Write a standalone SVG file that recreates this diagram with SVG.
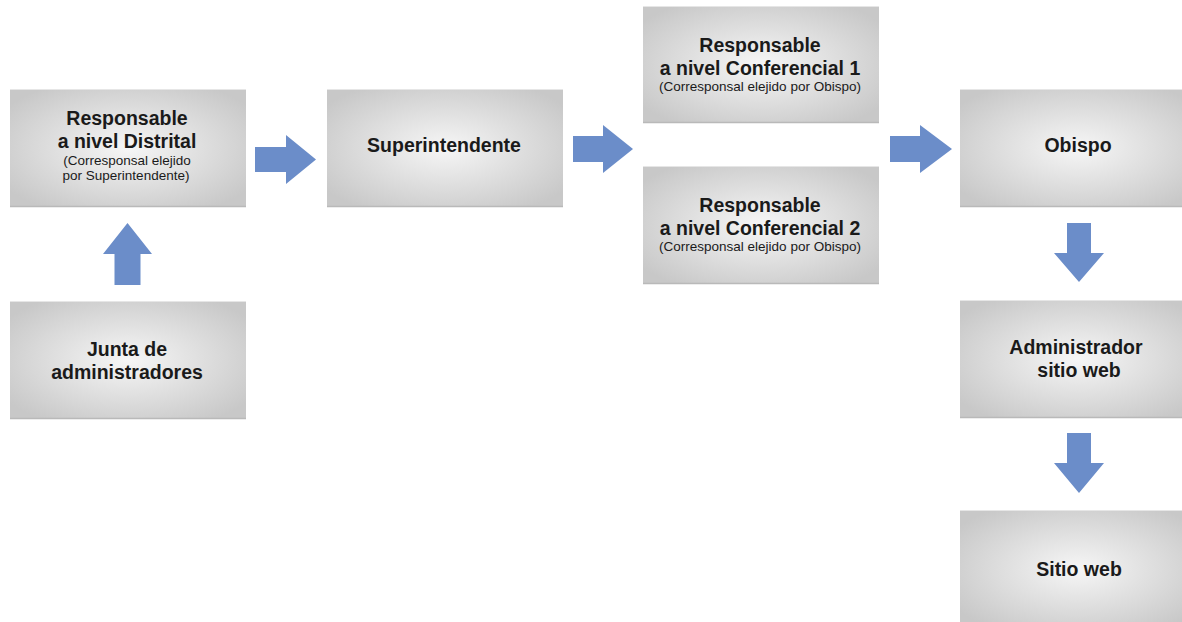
<svg xmlns="http://www.w3.org/2000/svg" width="1182" height="622" viewBox="0 0 1182 622">
<defs>
<radialGradient id="g" cx="0.5" cy="0.5" r="0.62" fx="0.5" fy="0.5">
<stop offset="0" stop-color="#f6f6f6"/>
<stop offset="1" stop-color="#c8c8c8"/>
</radialGradient>
<style>
.box{fill:url(#g);}
.top{stroke:#e6e6e6;stroke-width:1;}
.bot{stroke:#b9b9b9;stroke-width:1.5;}
.t{font-family:"Liberation Sans",Arial,sans-serif;font-weight:bold;font-size:19.5px;fill:#1a1a1a;text-anchor:middle;}
.s{font-family:"Liberation Sans",Arial,sans-serif;font-size:13.5px;fill:#1a1a1a;text-anchor:middle;}
.arr{fill:#6b8dc9;}
</style>
</defs>
<rect width="1182" height="622" fill="#ffffff"/>

<g id="distrital">
<rect class="box" x="10" y="89" width="236" height="118"/>
<line class="top" x1="10" y1="89.5" x2="246" y2="89.5"/>
<line class="bot" x1="10" y1="206.5" x2="246" y2="206.5"/>
<text class="t" x="127" y="125">Responsable</text>
<text class="t" x="127" y="148">a nivel Distrital</text>
<text class="s" x="127" y="165">(Corresponsal elejido</text>
<text class="s" x="126" y="180">por Superintendente)</text>
</g>

<g id="junta">
<rect class="box" x="10" y="301" width="236" height="118"/>
<line class="top" x1="10" y1="301.5" x2="246" y2="301.5"/>
<line class="bot" x1="10" y1="418.5" x2="246" y2="418.5"/>
<text class="t" x="127" y="356">Junta de</text>
<text class="t" x="127" y="379">administradores</text>
</g>

<g id="superintendente">
<rect class="box" x="327" y="89" width="236" height="118"/>
<line class="top" x1="327" y1="89.5" x2="563" y2="89.5"/>
<line class="bot" x1="327" y1="206.5" x2="563" y2="206.5"/>
<text class="t" x="444" y="152">Superintendente</text>
</g>

<g id="conferencial1">
<rect class="box" x="643" y="6" width="236" height="117"/>
<line class="top" x1="643" y1="6.5" x2="879" y2="6.5"/>
<line class="bot" x1="643" y1="122.5" x2="879" y2="122.5"/>
<text class="t" x="760" y="52">Responsable</text>
<text class="t" x="760" y="75">a nivel Conferencial 1</text>
<text class="s" x="760" y="91">(Corresponsal elejido por Obispo)</text>
</g>

<g id="conferencial2">
<rect class="box" x="643" y="166" width="236" height="118"/>
<line class="top" x1="643" y1="166.5" x2="879" y2="166.5"/>
<line class="bot" x1="643" y1="283.5" x2="879" y2="283.5"/>
<text class="t" x="760" y="212">Responsable</text>
<text class="t" x="760" y="235">a nivel Conferencial 2</text>
<text class="s" x="760" y="251">(Corresponsal elejido por Obispo)</text>
</g>

<g id="obispo">
<rect class="box" x="960" y="89" width="236" height="118"/>
<line class="top" x1="960" y1="89.5" x2="1196" y2="89.5"/>
<line class="bot" x1="960" y1="206.5" x2="1196" y2="206.5"/>
<text class="t" x="1078" y="152">Obispo</text>
</g>

<g id="administrador">
<rect class="box" x="960" y="300" width="236" height="118"/>
<line class="top" x1="960" y1="300.5" x2="1196" y2="300.5"/>
<line class="bot" x1="960" y1="417.5" x2="1196" y2="417.5"/>
<text class="t" x="1076" y="354">Administrador</text>
<text class="t" x="1079" y="377">sitio web</text>
</g>

<g id="sitioweb">
<rect class="box" x="960" y="510" width="236" height="118"/>
<line class="top" x1="960" y1="510.5" x2="1196" y2="510.5"/>
<text class="t" x="1079" y="576">Sitio web</text>
</g>

<g id="connectors">
<polygon class="arr" points="255,147 286,147 286,135 316,159.5 286,184 286,172 255,172"/>
<polygon class="arr" points="573,136 603,136 603,125 633,149 603,173 603,162 573,162"/>
<polygon class="arr" points="890,136 920,136 920,125 952,149 920,173 920,162 890,162"/>
<polygon class="arr" points="114.5,285 140.5,285 140.5,254 152,254 127.5,223 103,254 114.5,254"/>
<polygon class="arr" points="1067,223 1091,223 1091,253 1104,253 1079,282 1054,253 1067,253"/>
<polygon class="arr" points="1067,433 1091,433 1091,463 1104,463 1079,493 1054,463 1067,463"/>
</g>
</svg>
